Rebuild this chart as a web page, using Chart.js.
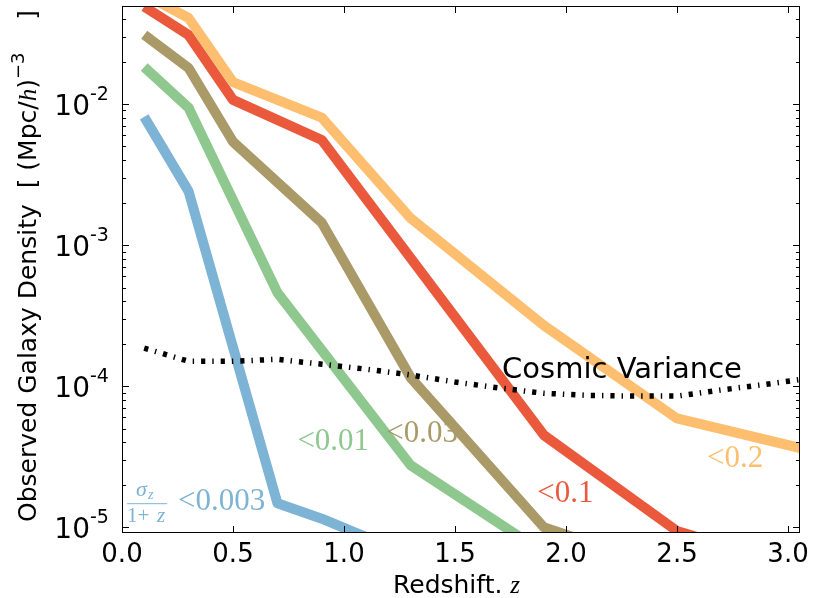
<!DOCTYPE html>
<html>
<head>
<meta charset="utf-8">
<script src="https://cdn.jsdelivr.net/npm/chart.js@4/dist/chart.umd.min.js"></script>
<style>
  html, body { margin: 0; padding: 0; background: #fff; }
</style>
</head>
<body>
<canvas id="densityChart" width="815" height="598"></canvas>
<script>
// Redshift nodes and observed densities
const zBlue = [0.1, 0.3, 0.7, 0.9, 1.1];
const nBlue = [8.1e-3, 2.4e-3, 1.48e-5, 1.15e-5, 8.5e-6];

const zGreen = [0.1, 0.3, 0.7, 1.3, 1.9];
const nGreen = [1.83e-2, 9.4e-3, 4.6e-4, 2.75e-5, 6.6e-6];

const zBrown = [0.1, 0.3, 0.5, 0.9, 1.3, 1.9, 2.5];
const nBrown = [3.1e-2, 1.8e-2, 5.4e-3, 1.44e-3, 1.15e-4, 1.0e-5, 4.8e-6];

const zRed = [0.1, 0.3, 0.5, 0.9, 1.9, 2.5, 3.1];
const nRed = [4.9e-2, 3.08e-2, 1.07e-2, 5.55e-3, 4.5e-5, 9.4e-6, 4.9e-6];

const zOrange = [0.1, 0.3, 0.5, 0.9, 1.3, 1.9, 2.5, 3.1];
const nOrange = [6.0e-2, 4.07e-2, 1.43e-2, 8.0e-3, 1.55e-3, 2.7e-4, 5.9e-5, 3.5e-5];

const zCosmic = [0.1, 0.3, 0.5, 0.7, 0.9, 1.1, 1.3, 1.5, 1.7, 1.9, 2.1, 2.3, 2.5, 2.7, 2.9, 3.1];
const nCosmic = [1.86e-4, 1.50e-4, 1.50e-4, 1.55e-4, 1.43e-4, 1.32e-4, 1.20e-4, 1.07e-4,
                 9.7e-5, 8.9e-5, 8.6e-5, 8.5e-5, 8.5e-5, 9.4e-5, 1.03e-4, 1.14e-4];

const xTicks = [0.0, 0.5, 1.0, 1.5, 2.0, 2.5, 3.0];
const xTickLabels = ['0.0', '0.5', '1.0', '1.5', '2.0', '2.5', '3.0'];
const yDecades = [-5, -4, -3, -2];

const colors = {
  blue: '#7db3d5',
  green: '#8fc88f',
  brown: '#a99a67',
  red: '#ea593c',
  orange: '#fdbf6f'
};

function pts(zs, ns) {
  return zs.map((z, i) => ({ x: z, y: ns[i] }));
}

function lineSet(label, zs, ns, color, order) {
  return {
    label: label,
    data: pts(zs, ns),
    borderColor: color,
    borderWidth: 10,
    borderJoinStyle: 'round',
    borderCapStyle: 'butt',
    pointRadius: 0,
    tension: 0,
    clip: 0,
    order: order
  };
}

// in-plot labels (anchor in data coords, left/baseline)
const notes = [
  { text: '<0.01', color: colors.green, z: 0.79, n: 3.5e-5 },
  { text: '<0.03', color: colors.brown, z: 1.19, n: 4.0e-5 },
  { text: '<0.1', color: colors.red, z: 1.87, n: 1.5e-5 },
  { text: '<0.2', color: colors.orange, z: 2.635, n: 2.67e-5 },
  { text: '<0.003', color: colors.blue, z: 0.252, n: 1.32e-5 }
];

const SANS = '"DejaVu Sans", sans-serif';
const SERIF = '"Liberation Serif", "DejaVu Serif", serif';

const axesPlugin = {
  id: 'mplAxes',
  afterDatasetsDraw(chart) {
    const { ctx, chartArea: a, scales: { x, y } } = chart;
    ctx.save();

    // labels inside the plot
    ctx.textAlign = 'left';
    ctx.textBaseline = 'alphabetic';
    notes.forEach(nt => {
      ctx.fillStyle = nt.color;
      ctx.font = '31px ' + SERIF;
      ctx.fillText(nt.text, x.getPixelForValue(nt.z), y.getPixelForValue(nt.n));
    });

    // sigma_z / (1+z) fraction
    const fx = x.getPixelForValue(0.113);
    const fy = y.getPixelForValue(1.48e-5);
    ctx.fillStyle = colors.blue;
    ctx.strokeStyle = colors.blue;
    ctx.lineWidth = 1;
    ctx.beginPath();
    ctx.moveTo(fx - 20, fy + 0.5);
    ctx.lineTo(fx + 20, fy + 0.5);
    ctx.stroke();
    ctx.font = 'italic 22px ' + SERIF;
    ctx.fillText('σ', fx - 11, fy - 7);
    ctx.font = 'italic 14px ' + SERIF;
    ctx.fillText('z', fx + 1, fy - 4);
    ctx.font = '21px ' + SERIF;
    ctx.fillText('1+', fx - 20, fy + 19);
    ctx.font = 'italic 21px ' + SERIF;
    ctx.fillText('z', fx + 10, fy + 19);

    // cosmic variance label
    ctx.fillStyle = '#000';
    ctx.font = '29px ' + SANS;
    ctx.fillText('Cosmic Variance', x.getPixelForValue(1.712), y.getPixelForValue(1.14e-4));

    // inside ticks
    ctx.strokeStyle = '#000';
    ctx.lineWidth = 1;
    ctx.beginPath();
    xTicks.forEach(v => {
      const px = Math.round(x.getPixelForValue(v)) + 0.5;
      ctx.moveTo(px, a.bottom); ctx.lineTo(px, a.bottom - 7);
      ctx.moveTo(px, a.top); ctx.lineTo(px, a.top + 7);
    });
    for (let k = -6; k <= -1; k++) {
      for (let m = 1; m <= 9; m++) {
        const v = m * Math.pow(10, k);
        if (v < y.min || v > y.max) continue;
        const py = Math.round(y.getPixelForValue(v)) + 0.5;
        const len = m === 1 ? 7 : 4;
        ctx.moveTo(a.left, py); ctx.lineTo(a.left + len, py);
        ctx.moveTo(a.right, py); ctx.lineTo(a.right - len, py);
      }
    }
    ctx.stroke();

    // frame
    ctx.strokeRect(Math.round(a.left) + 0.5, Math.round(a.top) + 0.5,
                   Math.round(a.right - a.left) - 1, Math.round(a.bottom - a.top) - 1);

    // x tick labels
    ctx.fillStyle = '#000';
    ctx.textAlign = 'center';
    ctx.font = '26px ' + SANS;
    xTicks.forEach((v, i) => {
      ctx.fillText(xTickLabels[i], x.getPixelForValue(v), a.bottom + 29);
    });

    // y tick labels 10^k
    yDecades.forEach(k => {
      const py = y.getPixelForValue(Math.pow(10, k));
      ctx.textAlign = 'right';
      ctx.font = '28px ' + SANS;
      ctx.fillText('10', a.left - 32, py + 11);
      ctx.textAlign = 'left';
      ctx.font = '19px ' + SANS;
      ctx.fillText('-' + Math.abs(k), a.left - 32, py - 4);
    });

    // x axis title
    ctx.textAlign = 'left';
    ctx.font = '25px ' + SANS;
    ctx.fillText('Redshift. ', 393, 593);
    const w = ctx.measureText('Redshift. ').width;
    ctx.font = 'italic 25px ' + SERIF;
    ctx.fillText('z', 393 + w, 593);

    // y axis title, rotated
    ctx.translate(36, 522);
    ctx.rotate(-Math.PI / 2);
    const segs = [
      { t: 'Observed Galaxy Density  [ (Mpc/', f: '25px ' + SANS, dy: 0 },
      { t: 'h', f: 'italic 25px ' + SERIF, dy: 0 },
      { t: ')', f: '25px ' + SANS, dy: 0 },
      { t: '−3', f: '18px ' + SANS, dy: -12 }
    ];
    let cx = 0;
    segs.forEach(s => {
      ctx.font = s.f;
      ctx.fillText(s.t, cx, s.dy);
      cx += ctx.measureText(s.t).width;
    });
    ctx.font = '25px ' + SANS;
    ctx.textAlign = 'right';
    ctx.fillText(']', 512, 0);

    ctx.restore();
  }
};

new Chart(document.getElementById('densityChart'), {
  type: 'line',
  data: {
    datasets: [
      {
        label: 'Cosmic Variance',
        data: pts(zCosmic, nCosmic),
        borderColor: '#000',
        borderWidth: 5.5,
        borderDash: [4.2, 7, 1.4, 7],
        borderCapStyle: 'butt',
        pointRadius: 0,
        tension: 0,
        clip: 0,
        order: 0
      },
      lineSet('<0.2', zOrange, nOrange, colors.orange, 1),
      lineSet('<0.1', zRed, nRed, colors.red, 2),
      lineSet('<0.03', zBrown, nBrown, colors.brown, 3),
      lineSet('<0.01', zGreen, nGreen, colors.green, 4),
      lineSet('<0.003', zBlue, nBlue, colors.blue, 5)
    ]
  },
  options: {
    responsive: false,
    animation: false,
    events: [],
    layout: { padding: { left: 0, right: 15, top: 6, bottom: 0 } },
    plugins: {
      legend: { display: false },
      tooltip: { enabled: false }
    },
    scales: {
      x: {
        type: 'linear',
        min: 0,
        max: 3.054,
        grid: { display: false },
        border: { display: false },
        ticks: { display: false },
        afterFit: function(s) { s.height = 65; }
      },
      y: {
        type: 'logarithmic',
        min: 9.1e-6,
        max: 0.0495,
        grid: { display: false },
        border: { display: false },
        ticks: { display: false },
        afterFit: function(s) { s.width = 122; }
      }
    }
  },
  plugins: [axesPlugin]
});
</script>
</body>
</html>
